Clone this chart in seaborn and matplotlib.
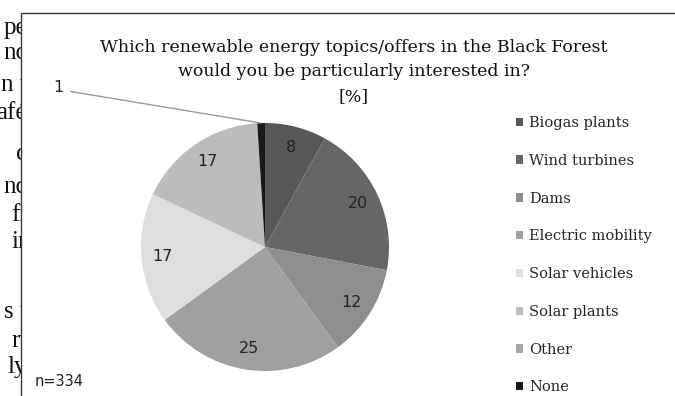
import matplotlib
matplotlib.use("Agg")
import matplotlib.pyplot as plt
import seaborn as sns
import numpy as np
from matplotlib.patches import Rectangle, Patch

# Survey answers (percent of respondents)
categories = ["Biogas plants", "Wind turbines", "Dams", "Electric mobility",
              "Solar vehicles", "Solar plants", "Other", "None"]
shares = [8, 20, 12, 25, 17, 17, 0, 1]
title_lines = ["Which renewable energy topics/offers in the Black Forest",
               "would you be particularly interested in?",
               "[%]"]
sample_note = "n=334"

# Fragments of the surrounding page text, cut off by the chart box
margin_words = ["pe", "nc", "n t", "afé", "c", "nc", "fi", "ir", "s t", "rt", "ly"]
margin_rows = [27, 52, 84, 112, 153, 186, 214, 241, 311, 340, 366]

sns.set_theme(style="white")
grays = sns.color_palette(["#575757", "#666666", "#8e8e8e", "#a0a0a0",
                           "#dedede", "#bcbcbc", "#a8a8a8", "#1a1a1a"])
plt.rcParams["font.family"] = ["DejaVu Serif"]

W, H = 675, 396
fig = plt.figure(figsize=(W / 100, H / 100), dpi=100)
fig.patch.set_facecolor("white")

# page text in the left margin
for word, y in zip(margin_words, margin_rows):
    fig.text(27 / W, 1 - (y + 7) / H, word, ha="right", va="baseline",
             family=["Liberation Serif", "DejaVu Serif"], fontsize=18,
             color="#111111", zorder=-2)

# chart box (white, thin dark border)
fig.add_artist(Rectangle((21 / W, -0.1), 1.0, 1.1 - 13 / H,
                         transform=fig.transFigure, facecolor="white",
                         edgecolor="#3a3a3a", lw=1.0, zorder=-1))

# pie
cx, cy, r = 265, 247, 124
ax = fig.add_axes([(cx - r) / W, (H - cy - r) / H, 2 * r / W, 2 * r / H])
num_font = ["Liberation Sans Narrow", "DejaVu Sans"]
wedges, texts, autotexts = ax.pie(
    shares, colors=grays, startangle=90, counterclock=False,
    autopct=lambda p: f"{p:.0f}" if p >= 2 else "", pctdistance=0.83,
    wedgeprops=dict(linewidth=0),
    textprops=dict(family=num_font, fontsize=11.5, color="#222222"))
ax.set_xlim(-1, 1)
ax.set_ylim(-1, 1)
ax.set_aspect("equal")
ax.axis("off")

# small slice labelled outside with a leader line
w = wedges[-1]
mid = np.deg2rad((w.theta1 + w.theta2) / 2)
ax.annotate(f"{shares[-1]}", xy=(np.cos(mid), np.sin(mid)),
            xytext=(58, H - 88), textcoords="figure pixels",
            ha="center", va="center", family=num_font, fontsize=11.5,
            color="#222222", annotation_clip=False,
            arrowprops=dict(arrowstyle="-", color="#9a9a9a", lw=1.0,
                            shrinkA=3, shrinkB=0, relpos=(1.0, 0.35)))

# title
for line, y in zip(title_lines, [47, 72, 97]):
    fig.text(354 / W, 1 - y / H, line, ha="center", va="center",
             fontsize=12.5, color="#111111")

# legend
handles = [Patch(facecolor=c, edgecolor="none") for c in grays]
fig.legend(handles, categories, loc="upper left",
           bbox_to_anchor=(516 / W, 1 - 116 / H), frameon=False,
           handlelength=0.5, handleheight=0.5, handletextpad=0.4,
           labelspacing=1.63, fontsize=10.5, borderaxespad=0, borderpad=0)

fig.text(35 / W, 1 - 382 / H, sample_note, ha="left", va="center",
         family=num_font, fontsize=10.5, color="#222222")

fig.savefig("out.png", dpi=100, facecolor="white")
